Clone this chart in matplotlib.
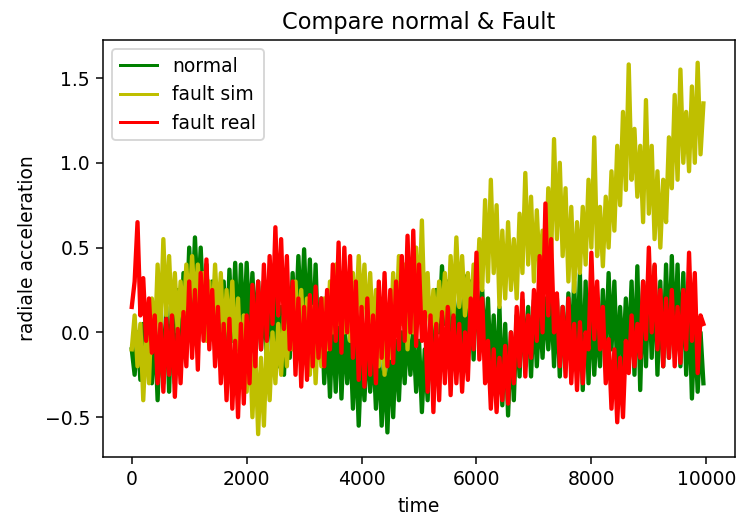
import numpy as np
import matplotlib
matplotlib.use("Agg")
import matplotlib.pyplot as plt

step = 50
normal = [
    -0.10, -0.25, 0.00, -0.28, 0.05, -0.20, 0.10, -0.30, 0.05, -0.40,
    0.10, -0.30, 0.15, -0.35, 0.20, -0.30, 0.25, -0.25, 0.35, 0.00,
    0.50, 0.10, 0.56, 0.15, 0.50, 0.10, 0.40, -0.05, 0.30, -0.10,
    0.25, -0.20, 0.30, -0.15, 0.37, -0.05, 0.41, -0.10, 0.40, -0.05,
    0.41, 0.00, 0.35, -0.05, 0.30, -0.10, 0.25, -0.15, 0.30, -0.10,
    0.20, -0.20, 0.15, -0.25, 0.25, -0.15, 0.35, 0.00, 0.45, 0.05,
    0.49, 0.00, 0.43, -0.10, 0.40, -0.15, 0.20, -0.30, 0.05, -0.38,
    0.10, -0.35, 0.15, -0.39, 0.05, -0.30, 0.00, -0.45, -0.05, -0.55,
    -0.10, -0.40, 0.00, -0.35, -0.05, -0.45, -0.10, -0.55, -0.15, -0.59,
    -0.10, -0.50, -0.05, -0.40, 0.00, -0.30, 0.05, -0.25, 0.00, -0.35,
    -0.05, -0.47, -0.10, -0.40, 0.10, -0.20, 0.25, 0.00, 0.39, 0.05,
    0.30, -0.05, 0.25, -0.10, 0.20, -0.15, 0.33, -0.10, 0.30, -0.16,
    0.35, -0.05, 0.25, -0.15, 0.20, -0.25, 0.10, -0.35, 0.15, -0.43,
    0.05, -0.49, 0.00, -0.40, 0.10, -0.26, 0.19, -0.20, 0.15, -0.26,
    0.19, -0.20, 0.15, -0.15, 0.20, -0.10, 0.23, -0.20, 0.20, -0.26,
    0.15, -0.20, 0.23, -0.15, 0.30, -0.20, 0.35, -0.34, 0.30, -0.30,
    0.20, -0.25, 0.10, -0.20, 0.25, -0.15, 0.35, -0.10, 0.30, -0.24,
    0.15, -0.20, 0.20, -0.15, 0.30, -0.25, 0.39, -0.34, 0.30, -0.20,
    0.35, -0.15, 0.39, -0.25, 0.30, -0.20, 0.40, -0.15, 0.45, -0.10,
    0.40, -0.20, 0.35, -0.25, 0.20, -0.39, 0.06, -0.35, 0.00, -0.30,
]
fault_sim = [
    -0.10, 0.10, -0.20, 0.05, -0.40, 0.00, -0.30, 0.20, -0.10, 0.40,
    0.00, 0.55, 0.10, 0.45, 0.05, 0.35, 0.00, 0.30, 0.05, 0.40,
    0.10, 0.45, 0.15, 0.40, 0.05, 0.35, -0.05, 0.30, 0.00, 0.40,
    0.05, 0.35, -0.10, 0.25, -0.05, 0.30, -0.15, 0.20, -0.25, 0.10,
    -0.35, 0.00, -0.50, -0.10, -0.60, -0.15, -0.55, -0.05, -0.40, 0.00,
    -0.30, 0.05, -0.25, 0.10, -0.20, 0.15, -0.10, 0.30, -0.05, 0.25,
    -0.15, 0.20, -0.25, 0.15, -0.30, 0.10, -0.20, 0.20, -0.10, 0.30,
    0.00, 0.40, 0.05, 0.35, 0.00, 0.30, -0.05, 0.35, 0.05, 0.45,
    0.10, 0.40, 0.00, 0.35, -0.05, 0.25, -0.20, 0.10, -0.25, 0.15,
    -0.15, 0.35, 0.00, 0.45, 0.05, 0.40, -0.10, 0.30, 0.00, 0.50,
    0.10, 0.66, 0.05, 0.35, -0.05, 0.25, 0.00, 0.30, 0.05, 0.35,
    0.00, 0.45, 0.10, 0.56, 0.15, 0.45, 0.10, 0.35, 0.05, 0.40,
    0.15, 0.55, 0.25, 0.78, 0.30, 0.90, 0.35, 0.75, 0.15, 0.60,
    0.20, 0.65, 0.25, 0.55, 0.20, 0.70, 0.35, 0.94, 0.40, 0.80,
    0.30, 0.72, 0.35, 0.60, 0.30, 0.85, 0.45, 1.14, 0.55, 1.00,
    0.45, 0.85, 0.30, 0.74, 0.24, 0.65, 0.35, 0.74, 0.40, 0.90,
    0.50, 1.15, 0.45, 0.74, 0.39, 0.80, 0.50, 0.95, 0.60, 1.10,
    0.75, 1.30, 0.84, 1.58, 0.90, 1.20, 0.80, 1.10, 0.65, 1.37,
    0.70, 1.10, 0.55, 0.95, 0.50, 0.90, 0.65, 1.15, 0.85, 1.40,
    0.90, 1.55, 1.00, 1.30, 0.95, 1.45, 1.00, 1.59, 1.05, 1.35,
]
fault_real = [
    0.15, 0.30, 0.65, 0.10, 0.32, -0.05, 0.20, -0.12, 0.10, -0.30,
    0.05, -0.35, 0.08, -0.25, 0.10, -0.38, 0.02, -0.30, 0.12, -0.20,
    0.30, -0.15, 0.25, -0.22, 0.35, -0.05, 0.43, -0.10, 0.25, -0.20,
    0.15, -0.30, 0.05, -0.40, 0.08, -0.45, -0.05, -0.50, 0.05, -0.42,
    0.10, -0.30, 0.28, -0.20, 0.30, -0.10, 0.40, -0.05, 0.45, 0.05,
    0.62, 0.10, 0.55, 0.02, 0.45, -0.10, 0.30, -0.25, 0.20, -0.32,
    0.15, -0.28, 0.22, -0.20, 0.27, -0.15, 0.20, -0.20, 0.25, -0.10,
    0.40, -0.05, 0.53, -0.12, 0.50, 0.00, 0.45, -0.15, 0.30, -0.28,
    0.15, -0.32, 0.20, -0.25, 0.10, -0.30, 0.30, -0.15, 0.35, -0.20,
    0.25, -0.18, 0.30, -0.10, 0.45, -0.05, 0.57, 0.00, 0.60, -0.08,
    0.40, -0.05, 0.12, -0.35, 0.10, -0.47, 0.05, -0.40, 0.12, -0.30,
    0.15, -0.37, 0.10, -0.30, 0.05, -0.35, 0.00, -0.28, 0.20, -0.10,
    0.47, -0.16, 0.20, -0.30, -0.05, -0.45, -0.10, -0.47, -0.15, -0.40,
    -0.08, -0.42, 0.00, -0.30, 0.15, -0.20, 0.23, -0.26, 0.10, -0.15,
    0.25, -0.05, 0.45, 0.00, 0.76, 0.10, 0.55, 0.00, 0.23, -0.20,
    0.15, -0.26, 0.20, -0.30, 0.05, -0.34, 0.06, -0.30, 0.00, -0.10,
    0.47, -0.04, 0.30, -0.10, 0.15, -0.30, -0.04, -0.45, -0.10, -0.53,
    -0.15, -0.50, -0.05, -0.24, 0.10, -0.20, 0.05, -0.15, 0.30, -0.04,
    0.50, 0.00, 0.40, -0.10, 0.25, -0.20, 0.20, -0.15, 0.25, -0.20,
    0.15, -0.18, 0.25, -0.10, 0.47, -0.05, 0.35, -0.24, 0.10, 0.05,
]

t = np.arange(len(normal)) * step

DPI = 135
fig = plt.figure(figsize=(737 / DPI, 517 / DPI), dpi=DPI)
ax = fig.add_axes([0.1398, 0.116, 0.8575, 0.8066])
ax.plot(t, normal, color='g', label='normal', lw=2.3)
ax.plot(t, fault_sim, color='y', label='fault sim', lw=2.3)
ax.plot(t, fault_real, color='r', label='fault real', lw=2.3)
ax.set_xlim(-500, 10500)
ax.set_ylim(-0.735, 1.724)
ax.set_xticks([0, 2000, 4000, 6000, 8000, 10000])
ax.set_yticks([-0.5, 0.0, 0.5, 1.0, 1.5])
ax.set_title('Compare normal & Fault')
ax.set_xlabel('time')
ax.set_ylabel('radiale acceleration')
leg = ax.legend(loc='upper left')
for h in leg.get_lines():
    h.set_linewidth(1.6)
fig.savefig('out.png', dpi=DPI)
